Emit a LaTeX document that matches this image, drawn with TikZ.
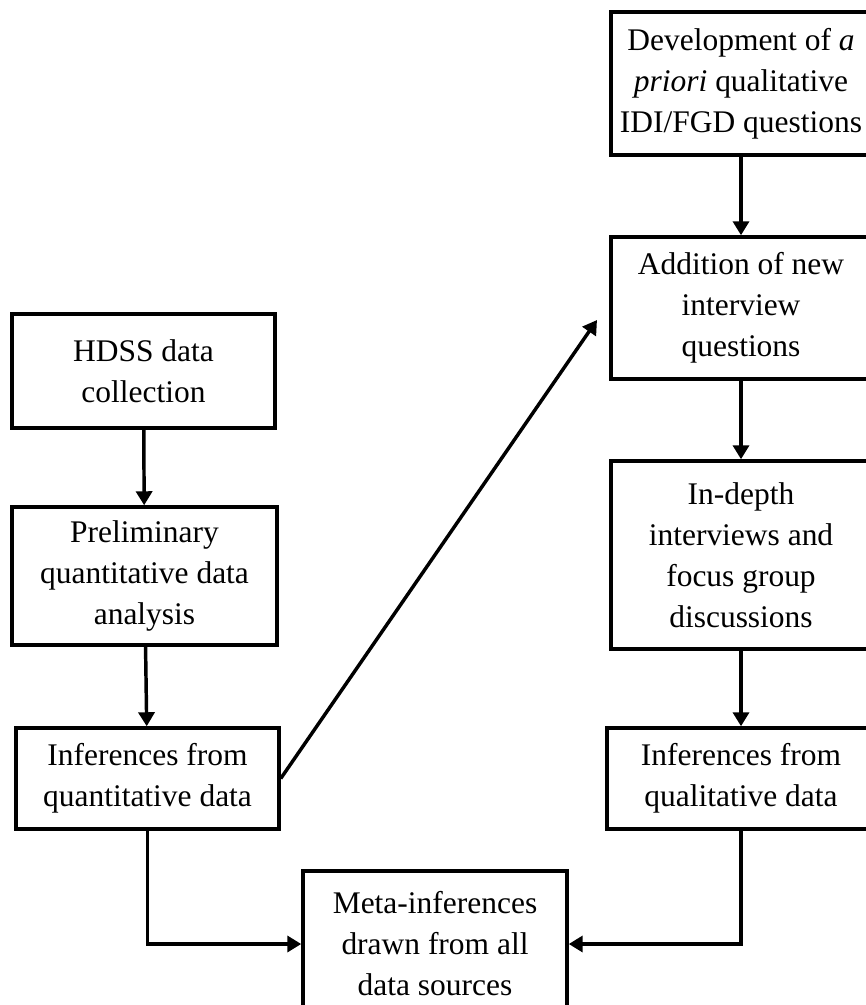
\documentclass[tikz,border=0pt]{standalone}
\usepackage{fontspec}
\setmainfont{Liberation Serif}
\usepackage{tikz}
\usetikzlibrary{arrows.meta, positioning}

\begin{document}
\begin{tikzpicture}[x=0.75pt, y=-0.75pt,
    stage/.style={draw, line width=2.6pt, align=center, inner sep=0pt,
        font=\fontsize{23.6}{30.75}\selectfont},
    flow/.style={line width=2.6pt, -{Triangle[length=10.5pt, width=12pt]}}]
    \useasboundingbox (0, 0) rectangle (865, 1005);

    % ── quantitative strand (left) ───────────────────────────────────
    \node[stage, minimum width=197.25pt, minimum height=85.5pt] (hdss) at (143.5, 371) {HDSS data\\collection};
    \node[stage, minimum width=198.75pt, minimum height=103.5pt] (prelim) at (144.5, 576) {Preliminary\\quantitative data\\analysis};
    \node[stage, minimum width=197.25pt, minimum height=75.75pt] (quant) at (147.5, 778.5) {Inferences from\\quantitative data};

    % ── qualitative strand (right) ───────────────────────────────────
    \node[stage, minimum width=195pt, minimum height=107.25pt] (devq) at (741, 83.5) {Development of \emph{a}\\\emph{priori} qualitative\\IDI/FGD questions};
    \node[stage, minimum width=195pt, minimum height=106.5pt] (addq) at (741, 308) {Addition of new\\interview\\questions};
    \node[stage, minimum width=195pt, minimum height=141pt] (idi) at (741, 555) {In-depth\\interviews and\\focus group\\discussions};
    \node[stage, minimum width=201pt, minimum height=75.75pt] (qual) at (741, 778.5) {Inferences from\\qualitative data};

    % ── integration ──────────────────────────────────────────────────
    \node[stage, minimum width=198pt, minimum height=109.5pt] (meta) at (435, 944) {Meta-inferences\\drawn from all\\data sources};
    \coordinate (feedback) at (597, 320);

    \draw[flow] (hdss) -- (prelim);
    \draw[flow] (prelim) -- (quant);
    \draw[flow] (devq) -- (addq);
    \draw[flow] (addq) -- (idi);
    \draw[flow] (idi) -- (qual);
    \draw[flow] (quant.east) -- (feedback);
    \draw[flow] (quant.south) |- (meta.west);
    \draw[flow] (qual.south) |- (meta.east);
\end{tikzpicture}
\end{document}
